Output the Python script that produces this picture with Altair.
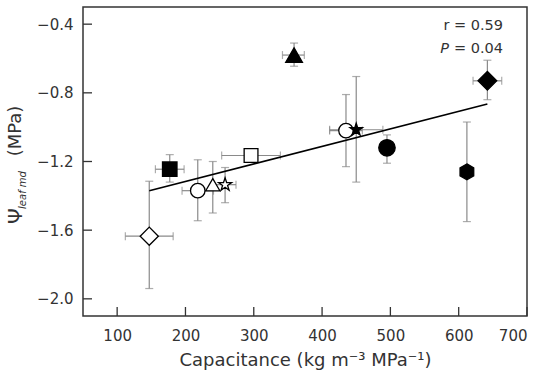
import altair as alt
import pandas as pd

# ---- data ----
species = ["s01", "s02", "s03", "s04", "s05", "s06", "s07", "s08", "s09", "s10", "s11", "s12"]
capacitance = [359, 642, 435, 450, 495, 612, 177, 296, 218, 240, 258, 147]
psi_leaf = [-0.58, -0.73, -1.02, -1.015, -1.12, -1.26, -1.245, -1.165, -1.37, -1.335, -1.335, -1.635]
psi_low = [-0.645, -0.84, -1.23, -1.32, -1.21, -1.55, -1.32, None, -1.545, -1.50, -1.44, -1.94]
psi_high = [-0.51, -0.61, -0.81, -0.705, -1.045, -0.97, -1.16, None, -1.19, -1.20, -1.235, -1.315]
cap_low = [342, 621, 411, 411, None, None, 156, 253, 195, None, 242, 112]
cap_high = [374, 663, 459, 489, None, None, 198, 339, 241, None, 274, 182]
fit_x = [147, 642]
fit_y = [-1.37, -0.865]
x_ticks = [100, 200, 300, 400, 500, 600, 700]
y_ticks = [-2.0, -1.6, -1.2, -0.8, -0.4]
r_text = "r = 0.59"
p_symbol = "P"
p_text = "= 0.04"

# ---- styles ----
STAR = "M0,-1L0.2245,-0.309L0.951,-0.309L0.363,0.118L0.588,0.809L0,0.382L-0.588,0.809L-0.363,0.118L-0.951,-0.309L-0.2245,-0.309Z"
HEX = "M0,-1L0.866,-0.5L0.866,0.5L0,1L-0.866,0.5L-0.866,-0.5Z"
shapes = ["triangle-up", "diamond", "circle", STAR, "circle", HEX, "square", "square",
          "circle", "triangle-up", STAR, "diamond"]
fills = ["black", "black", "white", "black", "black", "black", "black", "white",
         "white", "white", "white", "white"]
sizes = [280, 350, 210, 170, 270, 250, 210, 190, 210, 200, 190, 330]

W, H = 444, 309
FONT = "DejaVu Sans"
ERR = "#8a8a8a"
TXT = "#333"

df = pd.DataFrame({"sp": species, "cap": capacitance, "psi": psi_leaf,
                   "plo": psi_low, "phi": psi_high, "clo": cap_low, "chi": cap_high})
xs = alt.Scale(domain=[50, 700], nice=False, zero=False)
ys = alt.Scale(domain=[-2.1, -0.3], nice=False, zero=False)

base = alt.Chart(df)
yerr = base.transform_filter("isValid(datum.plo)")
xerr = base.transform_filter("isValid(datum.clo)")

ybar = yerr.mark_rule(color=ERR, strokeWidth=1.2).encode(
    x=alt.X("cap:Q", scale=xs), y=alt.Y("plo:Q", scale=ys), y2="phi:Q")
ycap_lo = yerr.mark_tick(color=ERR, orient="horizontal", size=8, thickness=1.2).encode(
    x=alt.X("cap:Q", scale=xs), y=alt.Y("plo:Q", scale=ys))
ycap_hi = yerr.mark_tick(color=ERR, orient="horizontal", size=8, thickness=1.2).encode(
    x=alt.X("cap:Q", scale=xs), y=alt.Y("phi:Q", scale=ys))
xbar = xerr.mark_rule(color=ERR, strokeWidth=1.2).encode(
    x=alt.X("clo:Q", scale=xs), x2="chi:Q", y=alt.Y("psi:Q", scale=ys))
xcap_lo = xerr.mark_tick(color=ERR, orient="vertical", size=8, thickness=1.2).encode(
    x=alt.X("clo:Q", scale=xs), y=alt.Y("psi:Q", scale=ys))
xcap_hi = xerr.mark_tick(color=ERR, orient="vertical", size=8, thickness=1.2).encode(
    x=alt.X("chi:Q", scale=xs), y=alt.Y("psi:Q", scale=ys))

fit = alt.Chart(pd.DataFrame({"x": fit_x, "y": fit_y})).mark_line(
    color="black", strokeWidth=1.6).encode(
    x=alt.X("x:Q", scale=xs), y=alt.Y("y:Q", scale=ys))

points = base.mark_point(filled=True, stroke="black", strokeWidth=1.3, opacity=1).encode(
    x=alt.X("cap:Q", scale=xs,
            axis=alt.Axis(values=x_ticks, title="Capacitance (kg m⁻³ MPa⁻¹)",
                          domain=False, ticks=False, grid=False, labelPadding=12,
                          labelFont=FONT, labelFontSize=15, labelColor=TXT,
                          titleFont=FONT, titleFontSize=18, titleFontWeight="normal",
                          titleColor=TXT, titlePadding=8)),
    y=alt.Y("psi:Q", scale=ys,
            axis=alt.Axis(values=y_ticks, format=".1f", title="",
                          domain=False, ticks=False, grid=False, labelPadding=10,
                          labelFont=FONT, labelFontSize=15, labelColor=TXT)),
    shape=alt.Shape("sp:N", scale=alt.Scale(type="ordinal", domain=species, range=shapes), legend=None),
    fill=alt.Fill("sp:N", scale=alt.Scale(type="ordinal", domain=species, range=fills), legend=None),
    size=alt.Size("sp:N", scale=alt.Scale(type="ordinal", domain=species, range=sizes), legend=None),
)

# inward axis ticks
xt = alt.Chart(pd.DataFrame({"v": x_ticks})).mark_rule(color=TXT, strokeWidth=1.3).encode(
    x=alt.X("v:Q", scale=xs), y=alt.value(H), y2=alt.value(H - 9))
yt = alt.Chart(pd.DataFrame({"v": y_ticks})).mark_rule(color=TXT, strokeWidth=1.3).encode(
    y=alt.Y("v:Q", scale=ys), x=alt.value(0), x2=alt.value(9))


def label(txt, x, y, size, **kw):
    return alt.Chart(pd.DataFrame({"t": [txt]})).mark_text(
        font=FONT, fontSize=size, color=TXT, baseline="middle", **kw).encode(
        text="t:N", x=alt.value(x), y=alt.value(y))


r_txt = label(r_text, 420, 19, 14.5, align="right")
p_txt = label(p_text, 420, 42, 14.5, align="right")
p_sym = label(p_symbol, 366, 42, 14.5, align="right", fontStyle="italic")

psi_sym = label("Ψ", -67, 209, 20, angle=270, align="center")
psi_sub = label("leaf md", -60, 183, 10, angle=270, align="center", fontStyle="italic")
psi_unit = label("(MPa)", -67, 124, 18, angle=270, align="center")

chart = alt.layer(
    xbar, xcap_lo, xcap_hi, ybar, ycap_lo, ycap_hi, fit, points, xt, yt,
    r_txt, p_txt, p_sym, psi_sym, psi_sub, psi_unit
).properties(
    width=W, height=H,
    autosize=alt.AutoSizeParams(type="none"),
    padding={"left": 83, "top": 7, "right": 15, "bottom": 65},
    background="white",
).configure_view(stroke=TXT, strokeWidth=1.5)

chart.save("out.html", embed_options={"renderer": "svg", "actions": False})
